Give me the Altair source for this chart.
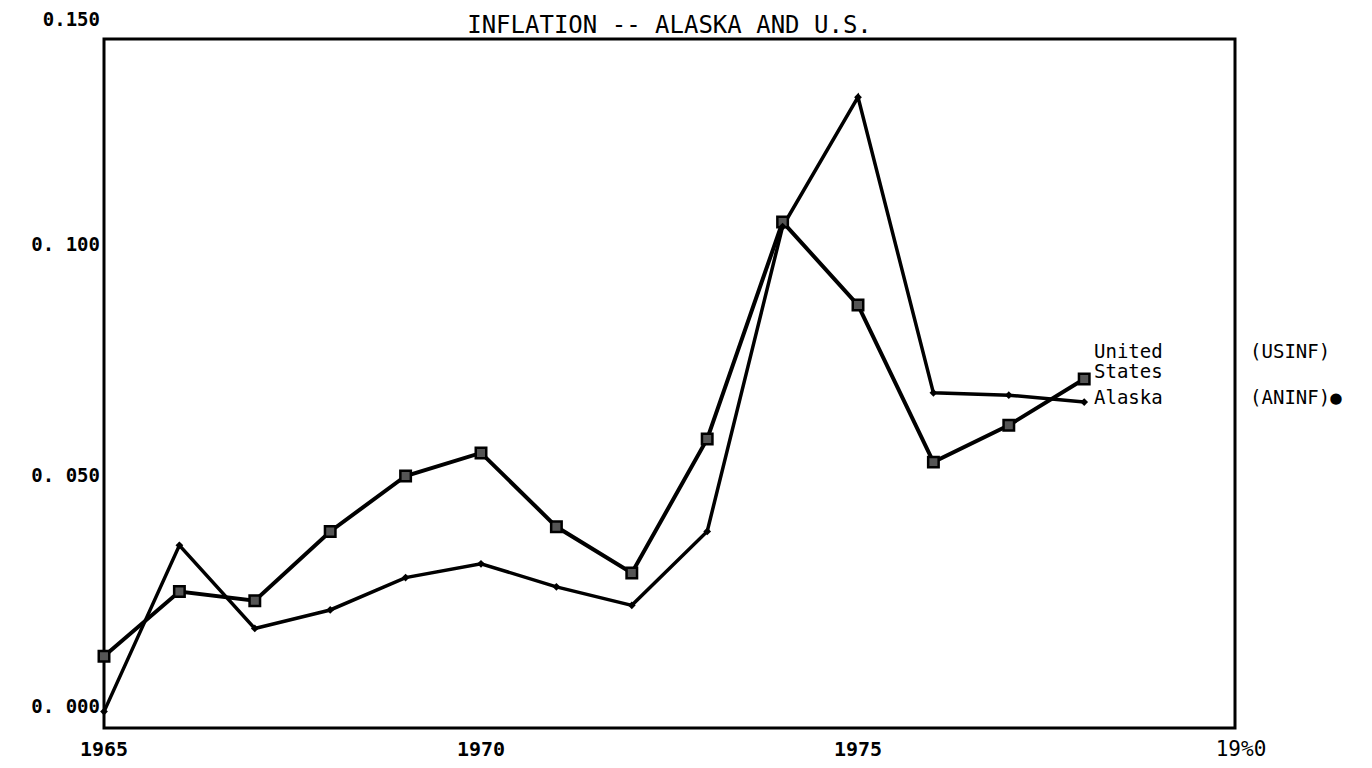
import altair as alt
import pandas as pd

years = [1965, 1966, 1967, 1968, 1969, 1970, 1971, 1972, 1973, 1974, 1975, 1976, 1977, 1978]
us_inf = [0.011, 0.025, 0.023, 0.038, 0.050, 0.055, 0.039, 0.029, 0.058, 0.105, 0.087, 0.053, 0.061, 0.071]
ak_inf = [-0.001, 0.035, 0.017, 0.021, 0.028, 0.031, 0.026, 0.022, 0.038, 0.104, 0.132, 0.068, 0.0675, 0.066]

y_tick_values = [0.0, 0.05, 0.10]
y_tick_labels = ["0. 000", "0. 050", "0. 100"]
y_top_value = [0.15]
y_top_label = ["0.150"]
x_tick_values = [1965, 1970, 1975]
x_tick_labels = ["1965", "1970", "1975"]
x_end_value = [1980]
x_end_label = ["19%0"]

title_text = "INFLATION -- ALASKA AND U.S."
series_labels = ["United", "States", "Alaska"]
series_label_y = [0.0768, 0.0725, 0.0669]
code_labels = ["(USINF)", "(ANINF)\u25cf"]
code_label_y = [0.0768, 0.0669]

W, H = 1131, 689
xs = alt.Scale(domain=[1965, 1980], nice=False, zero=False)
ys = alt.Scale(domain=[-0.00455, 0.14459], nice=False, zero=False)

rows = []
for yr, u, a in zip(years, us_inf, ak_inf):
    rows.append({"year": yr, "value": u, "series": "US"})
    rows.append({"year": yr, "value": a, "series": "AK"})
df = pd.DataFrame(rows)

us_df = df[df.series == "US"]
ak_df = df[df.series == "AK"]

base_x = alt.X("year:Q", scale=xs, axis=None)
base_y = alt.Y("value:Q", scale=ys, axis=None)

us_line = alt.Chart(us_df).mark_line(color="black", strokeWidth=4).encode(x=base_x, y=base_y)
ak_line = alt.Chart(ak_df).mark_line(color="black", strokeWidth=3.5).encode(x=base_x, y=base_y)
us_pts = alt.Chart(us_df).mark_point(shape="square", filled=True, fill="#555555",
                                     stroke="black", strokeWidth=2.5, size=110, opacity=1).encode(x=base_x, y=base_y)
ak_pts = alt.Chart(ak_df).mark_point(shape="diamond", filled=True, color="black",
                                     size=60, opacity=1).encode(x=base_x, y=base_y)

ytl = pd.DataFrame({"v": y_tick_values, "t": y_tick_labels})
ylab = alt.Chart(ytl).mark_text(align="right", baseline="middle", font="DejaVu Sans Mono",
                                fontSize=19, fontWeight="bold", color="black", dx=-4).encode(
    x=alt.value(0), y=alt.Y("v:Q", scale=ys, axis=None), text="t:N")

ytop = pd.DataFrame({"v": y_top_value, "t": y_top_label})
ytoplab = alt.Chart(ytop).mark_text(align="right", baseline="middle", font="DejaVu Sans Mono",
                                    fontSize=19, fontWeight="bold", color="black", dx=-4, dy=6).encode(
    x=alt.value(0), y=alt.Y("v:Q", scale=ys, axis=None), text="t:N")

xtl = pd.DataFrame({"v": x_tick_values, "t": x_tick_labels})
xlab = alt.Chart(xtl).mark_text(align="center", baseline="middle", font="DejaVu Sans Mono",
                                fontSize=20, fontWeight="bold", color="black").encode(
    x=alt.X("v:Q", scale=xs, axis=None), y=alt.value(H + 22), text="t:N")

xend = pd.DataFrame({"v": x_end_value, "t": x_end_label})
xendlab = alt.Chart(xend).mark_text(align="center", baseline="middle", font="DejaVu Sans Mono",
                                    fontSize=21, color="black", dx=6).encode(
    x=alt.X("v:Q", scale=xs, axis=None), y=alt.value(H + 22), text="t:N")

sl = pd.DataFrame({"y": series_label_y, "t": series_labels, "x": [1978.13] * 3})
slab = alt.Chart(sl).mark_text(align="left", baseline="middle", font="DejaVu Sans Mono",
                               fontSize=19, color="black").encode(
    x=alt.X("x:Q", scale=xs, axis=None), y=alt.Y("y:Q", scale=ys, axis=None), text="t:N")

cl = pd.DataFrame({"y": code_label_y, "t": code_labels, "x": [1980.2] * 2})
clab = alt.Chart(cl).mark_text(align="left", baseline="middle", font="DejaVu Sans Mono",
                               fontSize=19, color="black").encode(
    x=alt.X("x:Q", scale=xs, axis=None), y=alt.Y("y:Q", scale=ys, axis=None), text="t:N")

tt = pd.DataFrame({"t": [title_text], "x": [1972.5]})
ttl = alt.Chart(tt).mark_text(align="center", baseline="bottom", font="DejaVu Sans Mono",
                              fontSize=24, color="black").encode(
    x=alt.X("x:Q", scale=xs, axis=None), y=alt.value(-1), text="t:N")

chart = alt.layer(us_line, ak_line, us_pts, ak_pts, ylab, ytoplab, xlab, xendlab, slab, clab, ttl).properties(
    width=W, height=H,
    autosize=alt.AutoSizeParams(type="none"),
    padding={"left": 96, "top": 31, "right": 125, "bottom": 32},
    background="white",
).configure_view(stroke="black", strokeWidth=3)

chart.save("out.html", embed_options={"renderer": "svg", "actions": False})
